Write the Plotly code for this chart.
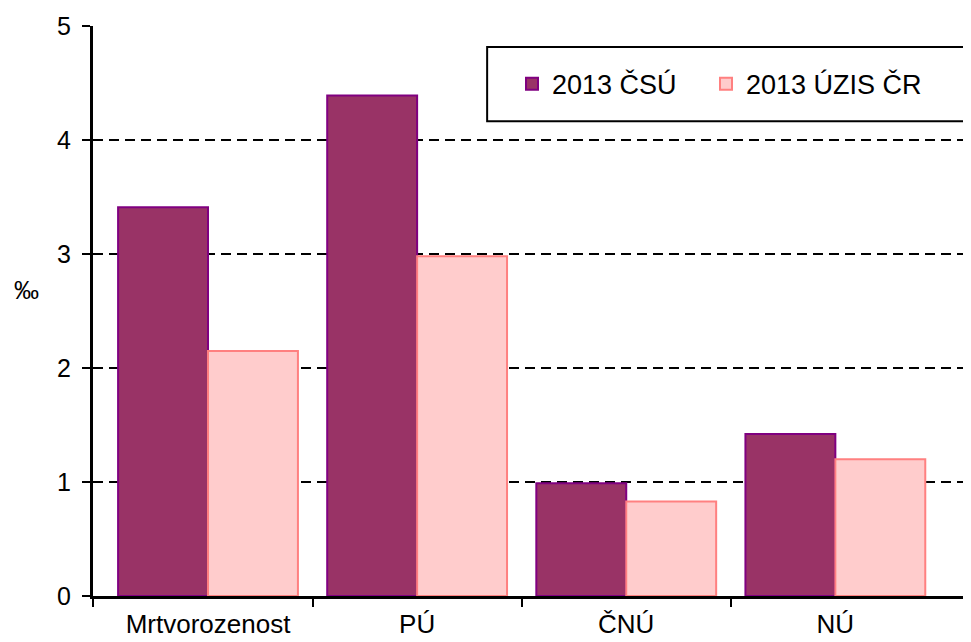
import plotly.graph_objects as go

categories = ["Mrtvorozenost", "PÚ", "ČNÚ", "NÚ"]
csu_2013 = [3.41, 4.39, 0.99, 1.42]
uzis_2013 = [2.15, 2.98, 0.83, 1.20]
y_ticks = [0, 1, 2, 3, 4, 5]

x_pos = list(range(len(categories)))
font = "Arial, Liberation Sans, sans-serif"

fig = go.Figure()

fig.add_trace(
    go.Bar(
        x=x_pos,
        y=csu_2013,
        name="2013 ČSÚ",
        legend="legend",
        marker={"color": "#993366", "line": {"color": "#800080", "width": 2}},
    )
)
fig.add_trace(
    go.Bar(
        x=x_pos,
        y=uzis_2013,
        name="2013 ÚZIS ČR",
        legend="legend2",
        marker={"color": "#FFCCCC", "line": {"color": "#FF8080", "width": 2}},
    )
)

# per-mille label left of the axis
fig.add_annotation(
    text="‰",
    xref="paper",
    yref="y",
    x=-0.0757,
    y=2.68,
    showarrow=False,
    xanchor="center",
    yanchor="middle",
    font={"size": 25, "color": "black", "family": font},
)

# legend frame
fig.add_shape(
    type="rect",
    xref="paper",
    yref="paper",
    x0=0.452,
    x1=1.001,
    y0=0.833,
    y1=0.963,
    line={"color": "black", "width": 2},
    fillcolor="white",
    layer="below",
)

legend_style = {
    "orientation": "h",
    "xanchor": "left",
    "y": 0.898,
    "yanchor": "middle",
    "borderwidth": 0,
    "bgcolor": "rgba(0,0,0,0)",
    "font": {"size": 27},
}

fig.update_layout(
    width=963,
    height=634,
    margin={"l": 85, "r": 6, "t": 18, "b": 46},
    barmode="group",
    bargap=0.14,
    bargroupgap=0,
    plot_bgcolor="white",
    paper_bgcolor="white",
    font={"family": font, "size": 26, "color": "black"},
    showlegend=True,
    legend={**legend_style, "x": 0.4805},
    legend2={**legend_style, "x": 0.703},
    xaxis={
        "range": [-0.55, 3.62],
        "tickmode": "array",
        "tickvals": x_pos,
        "ticktext": categories,
        "ticks": "",
        "ticklabelstandoff": 3,
        "automargin": False,
        "showline": True,
        "linecolor": "black",
        "linewidth": 3,
        "showgrid": False,
        "zeroline": False,
        "tickfont": {"size": 26},
        "minor": {
            "tickmode": "array",
            "tickvals": [-0.55, 0.5, 1.5, 2.5],
            "ticks": "outside",
            "ticklen": 8,
            "tickwidth": 2,
            "tickcolor": "black",
            "showgrid": False,
        },
    },
    yaxis={
        "range": [0, 5],
        "tickmode": "array",
        "tickvals": y_ticks,
        "ticks": "outside",
        "ticklen": 8,
        "tickwidth": 2,
        "tickcolor": "black",
        "ticklabelstandoff": 6,
        "automargin": False,
        "showline": True,
        "linecolor": "black",
        "linewidth": 3,
        "showgrid": True,
        "gridcolor": "black",
        "gridwidth": 2,
        "griddash": "10px,6px",
        "zeroline": False,
        "tickfont": {"size": 25},
    },
)

fig.write_html("out.html")
